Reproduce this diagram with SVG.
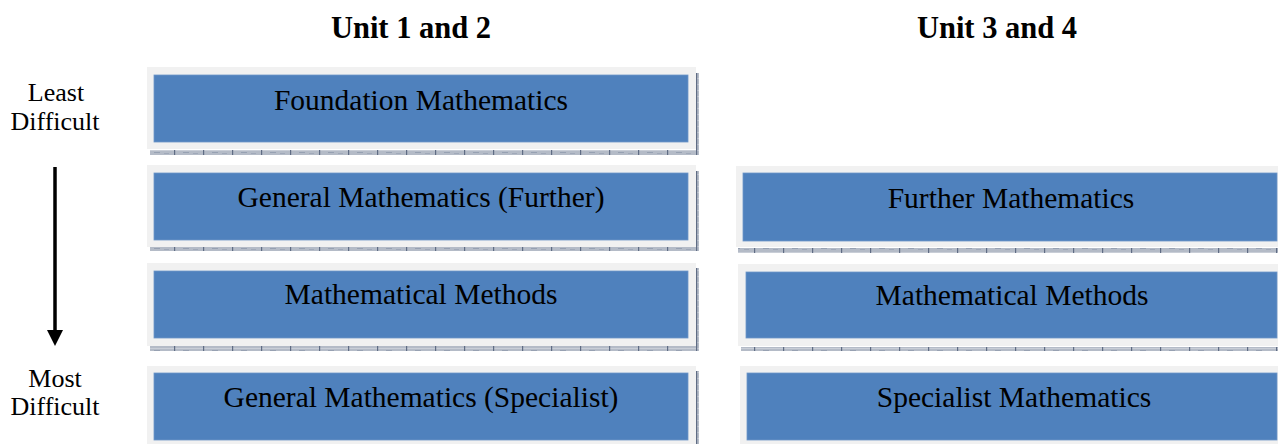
<svg xmlns="http://www.w3.org/2000/svg" width="1278" height="444" viewBox="0 0 1278 444">
  <defs>
    <pattern id="shade" x="0" y="0" width="29" height="6" patternUnits="userSpaceOnUse">
      <rect width="29" height="6" fill="#B4BBC7"/>
      <rect x="0" y="0" width="29" height="1" fill="#C9CED7"/>
      <rect x="0" y="0" width="1.2" height="6" fill="#5F6C84"/>
      <rect x="9" y="2" width="6" height="1" fill="#97A1B2"/>
      <rect x="19" y="3" width="5" height="1" fill="#A0A9B9"/>
    </pattern>
  </defs>
  <style>
    .frame { fill: #F1F1F1; }
    .box { fill: #4F81BD; stroke: #6E97C9; stroke-width: 0.8; }
    .shadow { fill: url(#shade); }
    .label { font-family: "Liberation Serif", "Times New Roman", serif; font-size: 29.5px; fill: #000; text-anchor: middle; }
    .head { font-family: "Liberation Serif", "Times New Roman", serif; font-size: 30.5px; font-weight: bold; fill: #000; text-anchor: middle; }
    .side { font-family: "Liberation Serif", "Times New Roman", serif; font-size: 26px; fill: #000; text-anchor: middle; }
  </style>
  <rect width="1278" height="444" fill="#FFFFFF"/>

  <g id="headers">
    <text class="head" x="411" y="38">Unit 1 and 2</text>
    <text class="head" x="997" y="38">Unit 3 and 4</text>
  </g>

  <g id="least-difficult">
    <text class="side" x="56" y="101">Least</text>
    <text class="side" x="55" y="130">Difficult</text>
  </g>
  <g id="most-difficult">
    <text class="side" x="55" y="387">Most</text>
    <text class="side" x="55" y="415">Difficult</text>
  </g>

  <g id="connectors">
    <line x1="55" y1="167" x2="55" y2="332" stroke="#000" stroke-width="3.5"/>
    <polygon points="47,330 63,330 55,346" fill="#000"/>
  </g>

  <!-- Unit 1 and 2 column -->
  <g id="foundation-mathematics">
    <rect class="shadow" x="696" y="73" width="3" height="82"/>
    <rect class="shadow" x="150" y="150" width="549" height="5"/>
    <rect class="frame" x="147" y="67" width="549" height="82"/>
    <rect class="box" x="154" y="75" width="534" height="67"/>
    <text class="label" x="421" y="110">Foundation Mathematics</text>
  </g>
  <g id="general-mathematics-further">
    <rect class="shadow" x="696" y="171" width="3" height="80"/>
    <rect class="shadow" x="150" y="247" width="549" height="4"/>
    <rect class="frame" x="147" y="165" width="549" height="82"/>
    <rect class="box" x="154" y="173" width="534" height="67"/>
    <text class="label" x="421" y="207">General Mathematics (Further)</text>
  </g>
  <g id="mathematical-methods-12">
    <rect class="shadow" x="696" y="268" width="3" height="83"/>
    <rect class="shadow" x="150" y="346" width="549" height="5"/>
    <rect class="frame" x="147" y="263" width="549" height="83"/>
    <rect class="box" x="154" y="271" width="534" height="67"/>
    <text class="label" x="421" y="304">Mathematical Methods</text>
  </g>
  <g id="general-mathematics-specialist">
    <rect class="shadow" x="696" y="371" width="3" height="80"/>
    <rect class="frame" x="147" y="366" width="549" height="82"/>
    <rect class="box" x="154" y="373" width="534" height="67"/>
    <text class="label" x="421" y="407">General Mathematics (Specialist)</text>
  </g>

  <!-- Unit 3 and 4 column -->
  <g id="further-mathematics">
    <rect class="shadow" x="738" y="248" width="550" height="5"/>
    <rect class="frame" x="736" y="166" width="550" height="81"/>
    <rect class="box" x="743" y="173" width="534" height="68"/>
    <text class="label" x="1011" y="208">Further Mathematics</text>
  </g>
  <g id="mathematical-methods-34">
    <rect class="shadow" x="741" y="347" width="550" height="4"/>
    <rect class="frame" x="738" y="264" width="550" height="82"/>
    <rect class="box" x="746" y="272" width="531" height="66"/>
    <text class="label" x="1012" y="305">Mathematical Methods</text>
  </g>
  <g id="specialist-mathematics">
    <rect class="frame" x="740" y="366" width="550" height="82"/>
    <rect class="box" x="747" y="373" width="530" height="67"/>
    <text class="label" x="1014" y="407">Specialist Mathematics</text>
  </g>
</svg>
